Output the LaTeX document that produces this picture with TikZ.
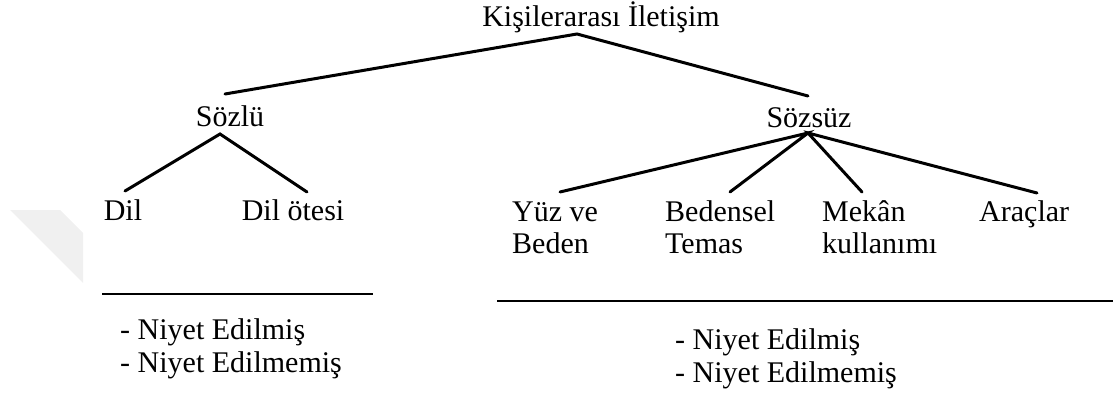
\documentclass[tikz,border=0pt]{standalone}
\usepackage{fontspec}
\setmainfont{Liberation Serif}
\begin{document}
\begin{tikzpicture}[x=1pt,y=-1pt,
  lbl/.style={inner sep=0pt,font=\fontsize{30}{34}\selectfont},
  conn/.style={line width=3pt,line cap=round},
  rule/.style={line width=2.4pt}]
\useasboundingbox (0,0) rectangle (1113,398);
% faint watermark
\fill[black!6] (10,210) -- (60,210) -- (83,233) -- (83,283) -- cycle;
% nodes
\node[lbl,anchor=base] (title) at (601,27) {Kişilerarası İletişim};
\node[lbl,anchor=base] (sozlu) at (230,127) {Sözlü};
\node[lbl,anchor=base] (sozsuz) at (809,128) {Sözsüz};
\node[lbl,anchor=base] (dil) at (123,220) {Dil};
\node[lbl,anchor=base] (dilotesi) at (293,220) {Dil ötesi};
\node[lbl,anchor=base west] (yuz) at (512,221) {Yüz ve};
\node[lbl,anchor=base west] (beden) at (512,253) {Beden};
\node[lbl,anchor=base west] (bedensel) at (665,221) {Bedensel};
\node[lbl,anchor=base west] (temas) at (665,253) {Temas};
\node[lbl,anchor=base west] (mekan) at (822,221) {Mekân};
\node[lbl,anchor=base west] (kullanim) at (822,253) {kullanımı};
\node[lbl,anchor=base west] (araclar) at (979,221) {Araçlar};
\node[lbl,anchor=base west] (ln1) at (120,339) {- Niyet Edilmiş};
\node[lbl,anchor=base west] (ln2) at (120,372) {- Niyet Edilmemiş};
\node[lbl,anchor=base west] (rn1) at (675,349) {- Niyet Edilmiş};
\node[lbl,anchor=base west] (rn2) at (675,382) {- Niyet Edilmemiş};
% connector end points
\coordinate (tA) at (577,34);
\coordinate (tL) at (225,94);
\coordinate (tR) at (808,96);
\coordinate (sA) at (220,134);
\coordinate (sL) at (125,191);
\coordinate (sR) at (307,192);
\coordinate (zA) at (808,133);
\coordinate (z1) at (560,192);
\coordinate (z2) at (730,192);
\coordinate (z3) at (862,192);
\coordinate (z4) at (1037,193);
\coordinate (uL1) at (102,294);
\coordinate (uL2) at (373,294);
\coordinate (uR1) at (497,301);
\coordinate (uR2) at (1113,301);
% connectors
\draw[conn] (tL) -- (tA) -- (tR);
\draw[conn] (sL) -- (sA) -- (sR);
\draw[conn] (z1) -- (zA) -- (z2);
\draw[conn] (z3) -- (zA) -- (z4);
\draw[rule] (uL1) -- (uL2);
\draw[rule] (uR1) -- (uR2);
\end{tikzpicture}
\end{document}
